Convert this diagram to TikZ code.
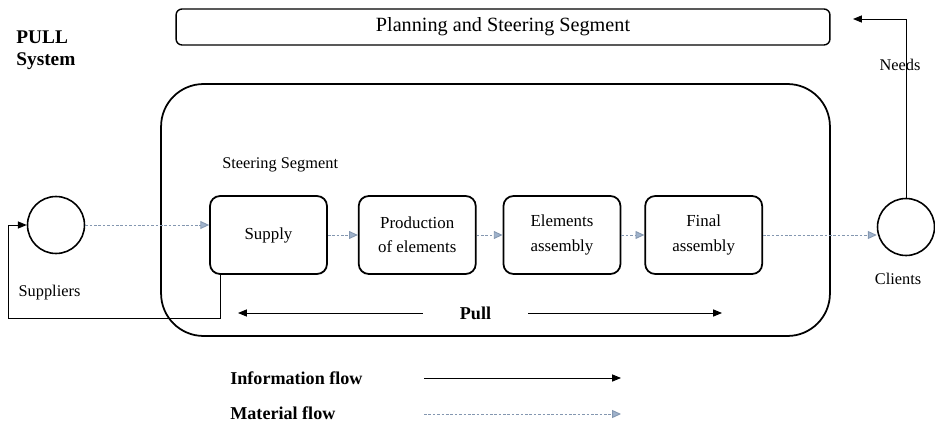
\documentclass[tikz,border=0pt]{standalone}
\usepackage{fontspec}
\setmainfont{Liberation Serif}
\usetikzlibrary{positioning,arrows.meta}
\definecolor{matline}{HTML}{8497B0}
\definecolor{mattip}{HTML}{9FB2CB}

\begin{document}
\begin{tikzpicture}[
    x=0.02cm, y=-0.02cm,
    stage/.style={draw=black, line width=1pt, rounded corners=0.2cm, minimum width=2.34cm, minimum height=1.56cm, align=center, font=\fontsize{9.6}{13.8}\selectfont},
    station/.style={draw=black, line width=0.9pt, circle, minimum size=1.14cm, inner sep=0pt},
    infoflow/.style={-{Triangle[length=5pt,width=4pt]}, line width=0.5pt, black},
    matflow/.style={-{Triangle[length=5pt,width=4.5pt,fill=mattip]}, draw=matline, line width=0.5pt, dash pattern=on 1.5pt off 1pt},
    label/.style={font=\fontsize{9.3}{11}\selectfont, inner sep=0pt},
    heading/.style={font=\fontsize{10.3}{12}\selectfont\bfseries, inner sep=0pt}
]
    \useasboundingbox (0,0) rectangle (935,422);

    % segments
    \node[draw=black, line width=0.8pt, rounded corners=0.12cm, minimum width=13.08cm, minimum height=0.72cm, font=\fontsize{11.5}{13}\selectfont] (planning) at (503,27) {Planning and Steering Segment};
    \node[draw=black, line width=1pt, rounded corners=0.85cm, minimum width=13.38cm, minimum height=5.04cm] (steering) at (495.5,210) {};
    \node[label, anchor=west] (steerlabel) at (222,165) {Steering Segment};
    \node[font=\fontsize{11}{13}\selectfont\bfseries, align=left, anchor=north west, inner sep=0pt] (system) at (16,30) {PULL\\System};

    % stages
    \node[stage] (supply) at (268.5,235) {Supply};
    \node[stage, right=0.6cm of supply] (production) {Production\\of elements};
    \node[stage, right=0.52cm of production] (elements) {Elements\\assembly};
    \node[stage, right=0.46cm of elements] (final) {Final\\assembly};

    % suppliers and clients
    \node[station] (suppliers) at (56,225) {};
    \node[station] (clients) at (906,227) {};
    \node[label] (supplierslabel) at (49.5,293) {Suppliers};
    \node[label] (clientslabel) at (898,279) {Clients};
    \node[label] (needs) at (900,65) {Needs};

    % material flow
    \draw[matflow] (suppliers.east) -- (suppliers.east -| supply.west);
    \draw[matflow] (supply) -- (production);
    \draw[matflow] (production) -- (elements);
    \draw[matflow] (elements) -- (final);
    \draw[matflow] (final.east) -- (final.east -| clients.west);

    % information flow
    \coordinate (needsend) at (853,19);
    \coordinate (feedback) at (8,318);
    \draw[infoflow] (clients.north) |- (needsend);
    \draw[infoflow] ([xshift=0.22cm]supply.south west) |- (feedback) |- (suppliers.west);

    % pull
    \node[heading, minimum width=2.1cm] (pull) at (475.5,313) {Pull};
    \coordinate (pullL) at (238,313);
    \coordinate (pullR) at (722,313);
    \draw[infoflow] (pull.west) -- (pullL);
    \draw[infoflow] (pull.east) -- (pullR);

    % legend
    \node[heading, anchor=west] (infolabel) at (230,378) {Information flow};
    \node[heading, anchor=west] (matlabel) at (230,413) {Material flow};
    \coordinate (infoA) at (424,378);
    \coordinate (infoB) at (621,378);
    \coordinate (matA) at (424,414);
    \coordinate (matB) at (621,414);
    \draw[infoflow] (infoA) -- (infoB);
    \draw[matflow] (matA) -- (matB);
\end{tikzpicture}
\end{document}
